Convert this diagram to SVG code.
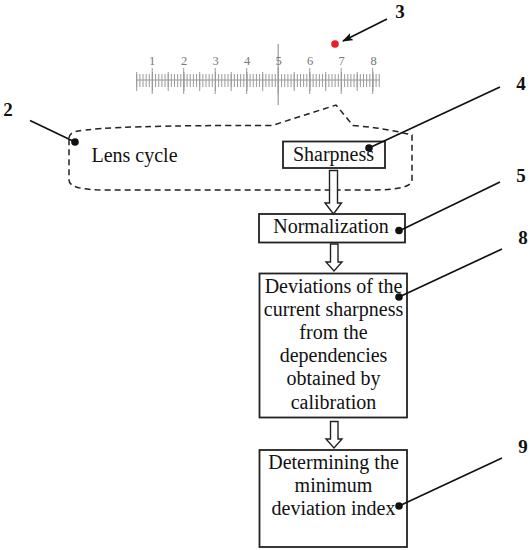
<svg xmlns="http://www.w3.org/2000/svg" width="530" height="550" viewBox="0 0 530 550">
<defs>
<style>
text{font-family:"Liberation Serif","Times New Roman",serif;fill:#111}
.t{font-size:20px;text-anchor:middle}
.n{font-size:19px;font-weight:bold;text-anchor:middle}
.r{font-size:12.5px;text-anchor:middle;fill:#777}
.box{fill:#fff;stroke:#222;stroke-width:1.8}
.lead{stroke:#111;stroke-width:1.7;fill:none}
.dot{fill:#111}
.tick{stroke:#9a9a9a;fill:none}
.ha{fill:#fff;stroke:#222;stroke-width:1.4;stroke-linejoin:miter}
</style>
<marker id="ah" markerWidth="12" markerHeight="10" refX="10" refY="4" orient="auto" markerUnits="userSpaceOnUse"><path d="M0 0L11 4L0 8L2.5 4Z" fill="#111"/></marker>
</defs>
<rect width="530" height="550" fill="#fff"/>
<g id="ruler">
<line class="tick" x1="136" y1="80" x2="380" y2="80" stroke-width="1"/>
<line class="tick" x1="136.2" y1="80.5" x2="380" y2="80.5" stroke-width="13" stroke-dasharray="1 2.15"/>
<line class="tick" x1="136.2" y1="81.5" x2="380" y2="81.5" stroke-width="19" stroke-dasharray="1 14.75"/>
<line class="tick" x1="151.7" y1="81" x2="380" y2="81" stroke-width="26" stroke-dasharray="1 30.5"/>
<line class="tick" x1="278.2" y1="44" x2="278.2" y2="105" stroke-width="1.2"/>
<text class="r" x="152" y="65">1</text><text class="r" x="184" y="65">2</text><text class="r" x="215.5" y="65">3</text><text class="r" x="247" y="65">4</text><text class="r" x="278.5" y="65">5</text><text class="r" x="310" y="65">6</text><text class="r" x="341.5" y="65">7</text><text class="r" x="373.5" y="65">8</text>
</g>
<g id="lens-cycle">
<path d="M69 138Q69 134 75 131.500Q110 125 272 125.500L336 105L353 125.500Q385 128 412 135L412 180Q412 190 372 190L105 190Q69 190 69 180Z" fill="none" stroke="#222" stroke-width="1.5" stroke-dasharray="6 4"/>
<text class="t" x="134.500" y="162">Lens cycle</text>
</g>
<g id="sharpness"><rect class="box" x="283" y="141.500" width="102" height="26.500"/><text class="t" x="333.500" y="161">Sharpness</text></g>
<g id="normalization"><rect class="box" x="259" y="214" width="146" height="28.500"/><text class="t" x="331" y="233">Normalization</text></g>
<g id="deviations"><rect class="box" x="259.500" y="273.500" width="147.500" height="144"/>
<text class="t" x="333.500" y="292.500">Deviations of the</text><text class="t" x="333.500" y="316">current sharpness</text><text class="t" x="333.500" y="339">from the</text><text class="t" x="333.500" y="362">dependencies</text><text class="t" x="333.500" y="385">obtained by</text><text class="t" x="333.500" y="408.500">calibration</text></g>
<g id="minimum"><rect class="box" x="259.500" y="450" width="147.500" height="97"/>
<text class="t" x="333.500" y="468.500">Determining the</text><text class="t" x="333.500" y="492">minimum</text><text class="t" x="333.500" y="515">deviation index</text></g>
<g id="connectors">
<path class="ha" d="M329.500 170.500H337.500V203H341.500L333.500 214L325 203H329.500Z"/>
<path class="ha" d="M330.500 244H338V262H342L334 271L326 262H330.500Z"/>
<path class="ha" d="M330.500 421.500H338V439H342L334 448L326 439H330.500Z"/>
<path class="lead" d="M387 19L343 41" marker-end="url(#ah)" stroke-width="2"/>
<path class="lead" d="M30 120.500L75 142"/>
<path class="lead" d="M369 148L500 87"/>
<path class="lead" d="M399 231L500 182"/>
<path class="lead" d="M399 297L502 249"/>
<path class="lead" d="M399 506L502 458"/>
<circle class="dot" cx="75" cy="142" r="3.800"/>
<circle class="dot" cx="369" cy="148" r="3.800"/>
<circle class="dot" cx="399" cy="230.500" r="3.800"/>
<circle class="dot" cx="399" cy="297" r="3.800"/>
<circle class="dot" cx="399" cy="506" r="3.800"/>
</g>
<g id="markers">
<circle cx="335" cy="44" r="3.800" fill="#ee1c25"/>
<text class="n" x="400" y="18">3</text>
<text class="n" x="8" y="116">2</text>
<text class="n" x="521" y="90">4</text>
<text class="n" x="521" y="182">5</text>
<text class="n" x="523" y="244">8</text>
<text class="n" x="523" y="453">9</text>
</g>
</svg>
